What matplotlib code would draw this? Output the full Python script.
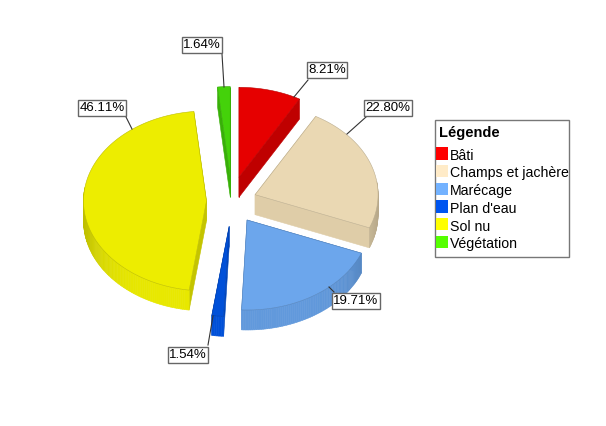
import numpy as np
import matplotlib
matplotlib.use("Agg")
import matplotlib.pyplot as plt
from matplotlib.patches import Rectangle

plt.rcParams['font.family'] = ['Liberation Sans', 'DejaVu Sans']
plt.rcParams['text.kerning_factor'] = 6

# clockwise from 12 o'clock
categories = ["Bâti", "Champs et jachère", "Marécage", "Plan d'eau", "Sol nu", "Végétation"]
values = [8.21, 22.80, 19.71, 1.54, 46.11, 1.64]

top_colors = ["#e60000", "#ead8b3", "#6ca6ec", "#0050d8", "#eded00", "#44d20a"]
cut_colors = ["#bf0000", "#dfcda8", "#5f95d6", "#0046bd", "#c4c400", "#38b008"]
rim_colors = ["#bf0000", "#dfcda8", "#6199dc", "#0050d8", "#e8e800", "#38b008"]
legend_colors = ["#ff0000", "#ffebc8", "#73b2ff", "#0055f0", "#ffff00", "#55ff00"]

# pie layout, in pixels of the output image
cx, cy = 231.5, 201.5
rx, ry = 123, 90
depth = 20
explode = 25
nudge = [(1, 0), (0, 1.5), (2, -2.5), (0, 0), (0, 0), (0, 0)]

# label centres and leader lines
label_pos = [(327, 70), (388, 108), (356, 301), (188, 355), (102, 108), (202, 45)]
leader_start = [(308, 80), (366, 117), (334, 292), (208, 345), (126, 117), (222, 54)]
leader_end = [(294, 97), (347, 134), (329, 287), (213, 316), (132, 129), (224, 87)]

fig = plt.figure(figsize=(6.06, 4.26), dpi=100)
ax = fig.add_axes([0, 0, 1, 1])
ax.set_xlim(0, 606)
ax.set_ylim(426, 0)
ax.axis("off")


def shade(color, f):
    return tuple(c * f for c in matplotlib.colors.to_rgb(color))


start = 0.0
total = sum(values)
for i, v in enumerate(values):
    sweep = v / total * 360
    mid = np.radians(start + sweep / 2)
    ox = cx + explode * np.sin(mid) + nudge[i][0]
    oy = cy - explode * np.cos(mid) + nudge[i][1]

    th = np.radians(np.linspace(start, start + sweep, max(int(sweep), 2) + 1))
    x = ox + rx * np.sin(th)
    y = oy - ry * np.cos(th)

    # the two cut faces
    for px, py in [(x[0], y[0]), (x[-1], y[-1])]:
        ax.fill([ox, px, px, ox], [oy, py, py + depth, oy + depth],
                color=cut_colors[i], lw=0.4, zorder=2)

    # outer wall, darker towards the sides of the pie
    for k in range(len(th) - 1):
        a = (th[k] + th[k + 1]) / 2
        if np.cos(a) > 0.15:
            continue
        f = 1 - 0.18 * abs(np.sin(a)) ** 6
        ax.fill([x[k], x[k + 1], x[k + 1], x[k]],
                [y[k], y[k + 1], y[k + 1] + depth, y[k] + depth],
                color=shade(rim_colors[i], f), lw=0.4, zorder=3)

    # top face
    ax.fill(np.r_[ox, x], np.r_[oy, y], facecolor=top_colors[i],
            edgecolor=shade(top_colors[i], 0.8), lw=0.4, zorder=4)

    # label
    lx, ly = label_pos[i]
    ax.plot([leader_start[i][0], leader_end[i][0]], [leader_start[i][1], leader_end[i][1]],
            color="#333333", lw=0.8, zorder=5)
    ax.text(lx, ly, f"{v:.2f}%", fontsize=9.5, color="black", ha="center", va="center", zorder=6,
            bbox=dict(boxstyle="square,pad=0.12", facecolor="white", edgecolor="#666666", linewidth=1))

    start += sweep

# legend box, drawn by hand because the swatches sit flush with the frame
ax.add_patch(Rectangle((435, 120), 134, 137, facecolor="white", edgecolor="#777777", lw=1, zorder=7))
ax.text(439, 133, "Légende", fontsize=10.5, fontweight="bold", va="center", zorder=8)
for i, name in enumerate(categories):
    row = 147.3 + 17.7 * i
    ax.add_patch(Rectangle((435.5, row), 12.5, 12.2, facecolor=legend_colors[i], edgecolor="none", zorder=8))
    ax.text(450, row + 8.5, name, fontsize=10.2, va="center", zorder=8)

fig.savefig("out.png", dpi=100, facecolor="white")
